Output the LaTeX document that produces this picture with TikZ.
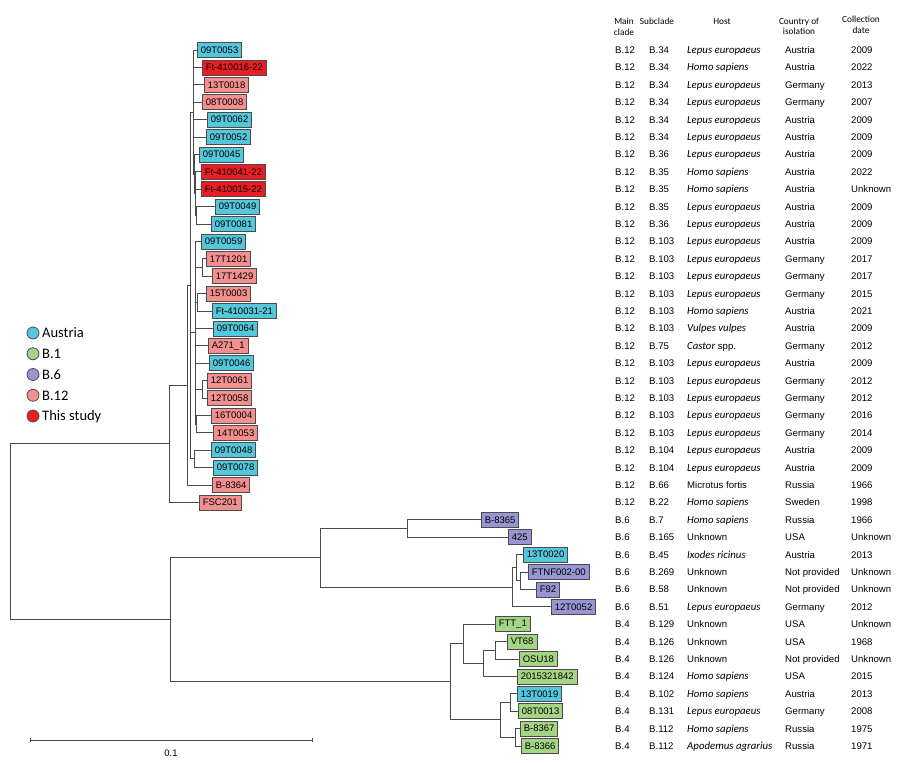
\documentclass[tikz,border=0pt]{standalone}
\usepackage{fontspec}
\setmainfont{Liberation Sans}
\newfontfamily\calib{Carlito}
\usetikzlibrary{calc}

\definecolor{austria}{RGB}{84,199,219}
\definecolor{bone}{RGB}{164,213,133}
\definecolor{bsix}{RGB}{152,150,210}
\definecolor{btwelve}{RGB}{243,143,143}
\definecolor{thisstudy}{RGB}{236,28,36}
\definecolor{branch}{RGB}{75,75,75}

\newcommand{\hst}[1]{{\calib\itshape\fontsize{10.8}{12}\selectfont #1}}

\begin{document}
\begin{tikzpicture}[x=1pt,y=-1pt,
  leaf/.style={draw=branch, line width=.8pt, anchor=west, inner xsep=3.4pt, inner ysep=0pt, minimum height=15pt, font=\fontsize{9.5}{10}\selectfont},
  edge/.style={draw=branch, line width=.9pt},
  cell/.style={anchor=base west, inner sep=0pt, font=\fontsize{9.6}{10}\selectfont},
  hdr/.style={align=center, inner sep=0pt, font=\calib\fontsize{9.3}{10.5}\selectfont}]
\useasboundingbox (0,0) rectangle (900,763);

\foreach \lab/\x/\col [count=\i] in {09T0053/197/austria, Ft-410016-22/202/thisstudy, 13T0018/204/btwelve,
  08T0008/202/btwelve, 09T0062/207/austria, 09T0052/206/austria, 09T0045/199/austria, Ft-410041-22/201/thisstudy,
  Ft-410015-22/201/thisstudy, 09T0049/215/austria, 09T0081/211/austria, 09T0059/201/austria, 17T1201/206/btwelve,
  17T1429/212/btwelve, 15T0003/206/btwelve, Ft-410031-21/212/austria, 09T0064/213/austria, A271\_1/208/btwelve,
  09T0046/209/austria, 12T0061/207/btwelve, 12T0058/207/btwelve, 16T0004/211/btwelve, 14T0053/213/btwelve,
  09T0048/211/austria, 09T0078/213/austria, B-8364/212/btwelve, FSC201/199/btwelve, B-8365/481/bsix, 425/508/bsix,
  13T0020/523/austria, FTNF002-00/528/bsix, F92/536/bsix, 12T0052/551/bsix, FTT\_1/495/bone, VT68/507/bone,
  OSU18/519/bone, 2015321842/517/bone, 13T0019/517/austria, 08T0013/518/bone, B-8367/520/bone, B-8366/521/bone}
  \node[leaf, fill=\col] (l\i) at (\x,{32.6+17.4*\i}) {\lab};

\foreach \n/\x/\y in {U/193/112.0, V/194/174.0, W/195/193.6, X/196/215.3, T17/202/267.5, T15/197/302.3,
  T12/202/389.3, T16/196/424.1, L1/195/332.75, T09/194/458.9, C/190/285.45, A/187/385.2, Up/169/443.8,
  M/407/528.5, Q2/520/580.7, Q/516/567.65, P/512/587.2, B6/320/557.85, VO/495/650.3, N2/483/663.35,
  N1/463/643.8, S1/510/702.5, S2/515/737.3, S/500/719.9, B4/450/681.85, Down/170/619.85, root/10/531.8}
  \coordinate (\n) at (\x,\y);

\foreach \p/\c in {U/l1.west, U/l2.west, U/l3.west, U/l4.west, U/l5.west, U/l6.west, U/V, V/l7.west, V/W,
  W/l8.west, W/l9.west, W/X, X/l10.west, X/l11.west, L1/l12.west, L1/T17, T17/l13.west, T17/l14.west, L1/T15,
  T15/l15.west, T15/l16.west, L1/l17.west, L1/l18.west, L1/l19.west, L1/T12, T12/l20.west, T12/l21.west, L1/T16,
  T16/l22.west, T16/l23.west, T09/l24.west, T09/l25.west, C/U, C/L1, C/T09, A/C, A/l26.west, Up/A, Up/l27.west,
  M/l28.west, M/l29.west, Q/l30.west, Q/Q2, Q2/l31.west, Q2/l32.west, P/Q, P/l33.west, B6/M, B6/P,
  N1/l34.west, N1/N2, N2/VO, VO/l35.west, VO/l36.west, N2/l37.west, S1/l38.west, S1/l39.west, S2/l40.west,
  S2/l41.west, S/S1, S/S2, B4/N1, B4/S, Down/B6, Down/B4, root/Up, root/Down}
  \draw[edge] (\p) |- (\c);

\node[hdr] (hmain) at (624,26.7) {Main\\clade};
\node[hdr] (hsub) at (657,21.7) {Subclade};
\node[hdr] (hhost) at (722,21.7) {Host};
\node[hdr] (hctry) at (799,26.2) {Country of\\isolation};
\node[hdr] (hdate) at (861,25) {Collection\\date};

\foreach \mc/\sc/\hs/\ct/\yr [count=\i] in {
  B.12/B.34/\hst{Lepus europaeus}/Austria/2009, B.12/B.34/\hst{Homo sapiens}/Austria/2022,
  B.12/B.34/\hst{Lepus europaeus}/Germany/2013, B.12/B.34/\hst{Lepus europaeus}/Germany/2007,
  B.12/B.34/\hst{Lepus europaeus}/Austria/2009, B.12/B.34/\hst{Lepus europaeus}/Austria/2009,
  B.12/B.36/\hst{Lepus europaeus}/Austria/2009, B.12/B.35/\hst{Homo sapiens}/Austria/2022,
  B.12/B.35/\hst{Homo sapiens}/Austria/Unknown, B.12/B.35/\hst{Lepus europaeus}/Austria/2009,
  B.12/B.36/\hst{Lepus europaeus}/Austria/2009, B.12/B.103/\hst{Lepus europaeus}/Austria/2009,
  B.12/B.103/\hst{Lepus europaeus}/Germany/2017, B.12/B.103/\hst{Lepus europaeus}/Germany/2017,
  B.12/B.103/\hst{Lepus europaeus}/Germany/2015, B.12/B.103/\hst{Homo sapiens}/Austria/2021,
  B.12/B.103/\hst{Vulpes vulpes}/Austria/2009, B.12/B.75/\hst{Castor} spp./Germany/2012,
  B.12/B.103/\hst{Lepus europaeus}/Austria/2009, B.12/B.103/\hst{Lepus europaeus}/Germany/2012,
  B.12/B.103/\hst{Lepus europaeus}/Germany/2012, B.12/B.103/\hst{Lepus europaeus}/Germany/2016,
  B.12/B.103/\hst{Lepus europaeus}/Germany/2014, B.12/B.104/\hst{Lepus europaeus}/Austria/2009,
  B.12/B.104/\hst{Lepus europaeus}/Austria/2009, B.12/B.66/Microtus fortis/Russia/1966,
  B.12/B.22/\hst{Homo sapiens}/Sweden/1998, B.6/B.7/\hst{Homo sapiens}/Russia/1966,
  B.6/B.165/Unknown/USA/Unknown, B.6/B.45/\hst{Ixodes ricinus}/Austria/2013,
  B.6/B.269/Unknown/Not provided/Unknown, B.6/B.58/Unknown/Not provided/Unknown,
  B.6/B.51/\hst{Lepus europaeus}/Germany/2012, B.4/B.129/Unknown/USA/Unknown,
  B.4/B.126/Unknown/USA/1968, B.4/B.126/Unknown/Not provided/Unknown,
  B.4/B.124/\hst{Homo sapiens}/USA/2015, B.4/B.102/\hst{Homo sapiens}/Austria/2013,
  B.4/B.131/\hst{Lepus europaeus}/Germany/2008, B.4/B.112/\hst{Homo sapiens}/Russia/1975,
  B.4/B.112/\hst{Apodemus agrarius}/Russia/1971}{
  \node[cell] (mc\i) at (615,{36+17.4*\i}) {\mc};
  \node[cell] (sc\i) at (649,{36+17.4*\i}) {\sc};
  \node[cell] (hs\i) at (687,{36+17.4*\i}) {\hs};
  \node[cell] (ct\i) at (785,{36+17.4*\i}) {\ct};
  \node[cell] (yr\i) at (851,{36+17.4*\i}) {\yr};
}

\foreach \col/\lab [count=\i] in {austria/Austria, bone/B.1, bsix/B.6, btwelve/B.12, thisstudy/This study}{
  \node[circle, draw=branch, fill=\col, line width=.8pt, minimum size=12pt, inner sep=0pt] (key\i) at (33,{312.25+20.75*\i}) {};
  \node[anchor=base west, inner sep=0pt, font=\calib\fontsize{14.5}{16}\selectfont] (keylab\i) at (42,{317+20.75*\i}) {\lab};
}

\coordinate (sb1) at (30,740);
\coordinate (sb2) at (312,740);
\draw[edge] (sb1) -- (sb2);
\draw[edge] ([yshift=2pt]sb1) -- ([yshift=-2pt]sb1);
\draw[edge] ([yshift=2pt]sb2) -- ([yshift=-2pt]sb2);
\node[font=\fontsize{9.5}{10}\selectfont, inner sep=0pt] (sblab) at (171,753) {0.1};
\end{tikzpicture}
\end{document}
